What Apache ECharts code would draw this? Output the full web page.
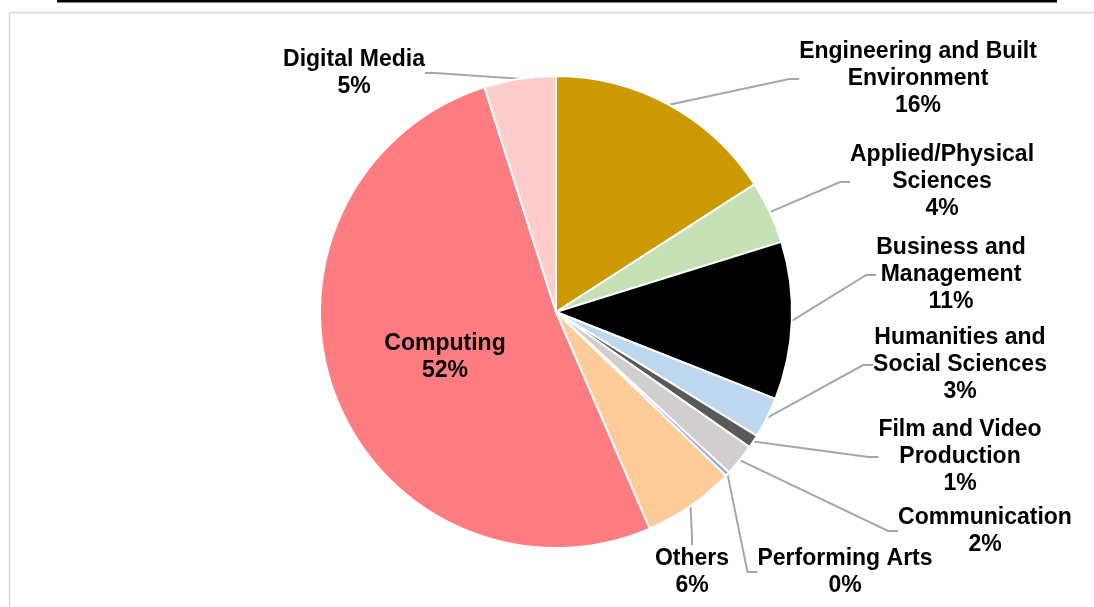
<!DOCTYPE html>
<html>
<head>
<meta charset="utf-8">
<script src="https://cdn.jsdelivr.net/npm/echarts@6/dist/echarts.min.js"></script>
<style>
html,body{margin:0;padding:0;background:#fff;}
#chart{width:1094px;height:607px;}
</style>
</head>
<body>
<div id="chart"></div>
<script>
// ---- data ----
const categories = [
  'Engineering and Built\nEnvironment',
  'Applied/Physical\nSciences',
  'Business and\nManagement',
  'Humanities and\nSocial Sciences',
  'Film and Video\nProduction',
  'Communication',
  'Performing Arts',
  'Others',
  'Computing',
  'Digital Media'
];
const values = [15.9, 4.3, 10.8, 2.8, 0.9, 2.2, 0.3, 6.3, 51.6, 4.9];
const colors = ['#CC9900', '#C5E0B4', '#000000', '#BDD7EE', '#595959', '#D0CECE', '#9999FF', '#FFCC99', '#FF7C80', '#FFCCCC'];

// ---- label layout (text block centers) ----
const labelCenters = [
  [918, 79], [942, 182], [951, 275], [960, 365], [960, 457],
  [985, 531], [845, 572], [692, 572], [445, 357], [354, 73]
];

const chart = echarts.init(document.getElementById('chart'), null, {renderer: 'canvas'});
const option = {
  backgroundColor: '#ffffff',
  animation: false,
  graphic: [
    {type: 'rect', shape: {x: 9.5, y: 12.5, width: 1200, height: 700}, style: {fill: 'none', stroke: '#D9D9D9', lineWidth: 1.5}, silent: true},
    {type: 'line', shape: {x1: 57, y1: 1, x2: 1057, y2: 1}, style: {stroke: '#000', lineWidth: 3}, silent: true}
  ],
  series: [{
    type: 'pie',
    center: [556, 312],
    radius: 236,
    startAngle: 90,
    clockwise: true,
    avoidLabelOverlap: false,
    itemStyle: {borderColor: '#ffffff', borderWidth: 2},
    label: {
      show: true,
      position: 'outside',
      formatter: p => p.name + '\n' + Math.round(p.percent) + '%',
      fontFamily: '"Liberation Sans", Arial, sans-serif',
      fontWeight: 'bold',
      fontSize: 23,
      lineHeight: 27,
      color: '#000',
      align: 'center'
    },
    labelLine: {show: true, length: 20, length2: 10, lineStyle: {color: '#A6A6A6', width: 2}},
    labelLayout: function (params) {
      const c = labelCenters[params.dataIndex];
      return {x: c[0], y: c[1], align: 'center', verticalAlign: 'middle'};
    },
    data: categories.map((name, i) => {
      const d = {name: name, value: values[i], itemStyle: {color: colors[i]}};
      if (name === 'Computing') {
        d.label = {position: 'inside'};
        d.labelLine = {show: false};
      }
      return d;
    })
  }]
};
chart.setOption(option);
</script>
</body>
</html>
